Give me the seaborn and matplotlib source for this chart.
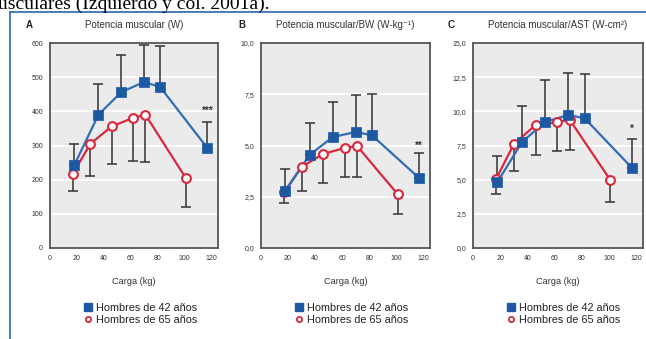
import numpy as np
import matplotlib.pyplot as plt
import seaborn as sns
from matplotlib.lines import Line2D
from matplotlib.ticker import FuncFormatter

# Load (kg) for each group
load_42 = [18, 36, 53, 70, 82, 117]
load_65 = [17, 30, 46, 62, 71, 101]

# A - muscular power (W), mean and SD
power_42 = [242, 390, 456, 486, 471, 293]
power_42_sd = [61, 90, 109, 109, 120, 76]
power_65 = [217, 305, 356, 381, 390, 205]
power_65_sd = [50, 95, 109, 125, 137, 85]

# B - power / body weight (W/kg)
bw_42 = [2.78, 4.54, 5.41, 5.66, 5.50, 3.41]
bw_42_sd = [1.07, 1.56, 1.69, 1.80, 2.00, 1.22]
bw_65 = [2.73, 3.95, 4.59, 4.88, 4.98, 2.63]
bw_65_sd = [0.53, 1.17, 1.42, 1.42, 1.52, 0.97]

# C - power / cross-sectional area (W/cm2)
ast_42 = [4.83, 7.75, 9.22, 9.73, 9.50, 5.85]
ast_42_sd = [1.90, 2.65, 3.08, 3.07, 3.23, 2.12]
ast_65 = [5.05, 7.60, 9.00, 9.20, 9.40, 4.97]
ast_65_sd = [1.10, 1.97, 2.20, 2.10, 2.23, 1.62]

panel_letters = ["A", "B", "C"]
panel_titles = ["Potencia muscular (W)", "Potencia muscular/BW (W-kg\u207b\u00b9)",
                "Potencia muscular/AST (W-cm\u00b2)"]
y_ticks = [[0, 100, 200, 300, 400, 500, 600],
           [0, 2.5, 5.0, 7.5, 10.0],
           [0, 2.5, 5.0, 7.5, 10.0, 12.5, 15.0]]
sig_marks = ["***", "**", "*"]
sig_y = [402, 5.0, 8.7]
legend_labels = ["Hombres de 42 a\u00f1os", "Hombres de 65 a\u00f1os"]

sns.set_theme(style="white")
plt.rcParams['font.family'] = ['Liberation Sans Narrow', 'Liberation Sans', 'DejaVu Sans']

blue = "#1d58a3"
blue_line = "#2f6eb6"
red = "#d8283c"
err_col = "#333333"
spine_col = "#555555"

W, H = 646, 339
fig = plt.figure(figsize=(W / 100, H / 100), dpi=100)

def px(x0, y_top, w, h):
    return [x0 / W, 1 - (y_top + h) / H, w / W, h / H]

boxes = [px(50, 43, 168, 205), px(261, 43, 169, 205), px(473, 43, 170, 205)]
letter_x = [26, 238, 448]

data = [
    (power_42, power_42_sd, power_65, power_65_sd),
    (bw_42, bw_42_sd, bw_65, bw_65_sd),
    (ast_42, ast_42_sd, ast_65, ast_65_sd),
]

for i, (y42, sd42, y65, sd65) in enumerate(data):
    ax = fig.add_axes(boxes[i])
    ax.set_facecolor("#ebebeb")

    # one-sided error bars: up for 42, down for 65
    ax.errorbar(load_42, y42, yerr=[np.zeros(len(sd42)), sd42], fmt='none',
                ecolor=err_col, elinewidth=1.1, capsize=3.5, capthick=1.1, zorder=2)
    ax.errorbar(load_65, y65, yerr=[sd65, np.zeros(len(sd65))], fmt='none',
                ecolor=err_col, elinewidth=1.1, capsize=3.5, capthick=1.1, zorder=2)

    sns.lineplot(x=load_65, y=y65, color=red, lw=1.6, ax=ax, zorder=3)
    sns.lineplot(x=load_42, y=y42, color=blue_line, lw=1.6, ax=ax, zorder=3)
    sns.scatterplot(x=load_65, y=y65, marker='o', s=40, color='white',
                    edgecolor=red, linewidth=1.5, ax=ax, zorder=4)
    sns.scatterplot(x=load_42, y=y42, marker='s', s=60, color=blue,
                    edgecolor=blue, linewidth=0.5, ax=ax, zorder=5)

    ax.text(load_42[-1], sig_y[i], sig_marks[i], ha='center', va='center',
            fontsize=7, color="#333333", fontweight='bold')

    ax.set_xlim(0, 125)
    ax.set_ylim(y_ticks[i][0], y_ticks[i][-1])
    ax.set_xticks([0, 20, 40, 60, 80, 100, 120])
    ax.set_yticks(y_ticks[i])
    if i == 0:
        ax.yaxis.set_major_formatter(FuncFormatter(lambda v, p: f"{v:.0f}"))
    else:
        ax.yaxis.set_major_formatter(FuncFormatter(lambda v, p: f"{v:.1f}".replace('.', ',')))
    ax.yaxis.grid(True, color='white', lw=1.3)
    ax.xaxis.grid(False)
    ax.set_axisbelow(True)
    ax.tick_params(direction='out', length=3, width=1, color=spine_col,
                   labelsize=5, pad=2, labelcolor="#333333")
    for s in ax.spines.values():
        s.set_color(spine_col)
        s.set_linewidth(1.3)

    ax.set_xlabel("Carga (kg)", fontsize=6.6, color="#333333")
    ax.xaxis.set_label_coords(0.5, (248 - 282) / 205)
    ax.xaxis.label.set_va('center')
    ax.set_ylabel("")

    # panel letter and title
    fig.text(letter_x[i] / W, 1 - 25 / H, panel_letters[i], fontsize=7,
             fontweight='bold', va='center', ha='left', color="#222222")
    cx = (boxes[i][0] + boxes[i][2] / 2)
    fig.text(cx, 1 - 25 / H, panel_titles[i], fontsize=7, va='center',
             ha='center', color="#333333")

    handles = [
        Line2D([], [], marker='s', ls='none', color=blue, markersize=6),
        Line2D([], [], marker='o', ls='none', markerfacecolor='white',
               markeredgecolor=red, markeredgewidth=1.3, markersize=3.8),
    ]
    leg = ax.legend(handles, legend_labels, loc='upper left',
                    bbox_to_anchor=(0.2, (248 - 303) / 205), frameon=False,
                    fontsize=7.8, handlelength=0.8, handletextpad=0.35,
                    labelspacing=0.2, borderpad=0, borderaxespad=0)
    for t in leg.get_texts():
        t.set_color("#222222")

# cut-off line of running text above the figure
fig.text(-2 / W, 1 - 9 / H, "usculares (Izquierdo y col. 2001a).",
         family='Liberation Serif', fontsize=14, va='baseline', ha='left',
         color='black')

# blue frame around the figure
frame_col = "#2c65b0"
fig.add_artist(Line2D([9.5 / W, 9.5 / W], [0, 1 - 11.5 / H], color=frame_col,
                      lw=1.2, transform=fig.transFigure))
fig.add_artist(Line2D([9.5 / W, 1], [1 - 11.5 / H, 1 - 11.5 / H], color=frame_col,
                      lw=1.2, transform=fig.transFigure))

fig.savefig("out.png", dpi=100)
